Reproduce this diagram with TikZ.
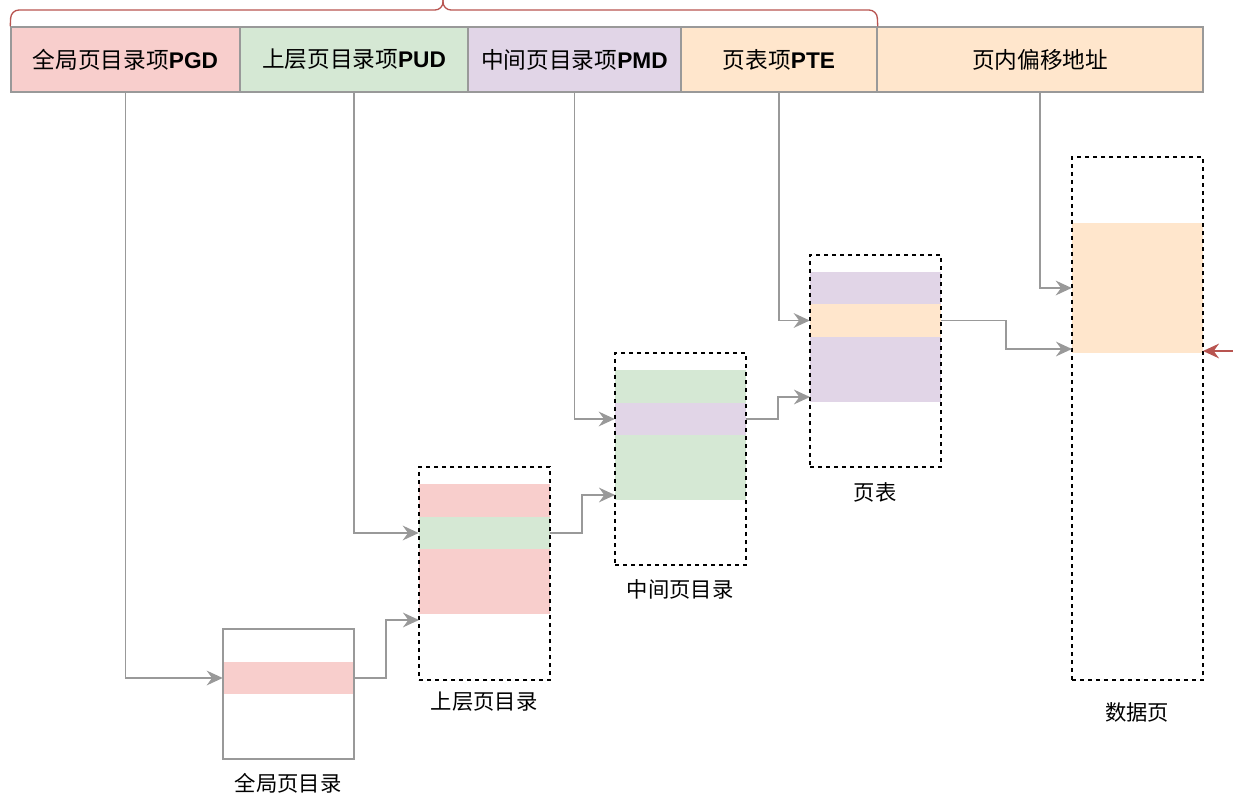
\documentclass[tikz,border=0pt]{standalone}
\usepackage{fontspec}
\setmainfont{Liberation Sans}
\newfontfamily\cjk{Noto Sans CJK SC}
\usetikzlibrary{arrows.meta,fit,positioning}
\definecolor{pgdred}{HTML}{F8CECC}
\definecolor{pudgreen}{HTML}{D5E8D4}
\definecolor{pmdpurple}{HTML}{E1D5E7}
\definecolor{pteorange}{HTML}{FFE6CC}
\definecolor{linegray}{HTML}{999999}
\definecolor{bracered}{HTML}{B85450}
\tikzset{
  field/.style={draw=linegray, line width=1.1pt, inner sep=0pt},
  fieldtext/.style={font=\fontsize{17}{19}\selectfont, inner sep=0pt},
  band/.style={draw=none, inner sep=0pt},
  tbl/.style={draw=black, line width=1pt, dash pattern=on 3pt off 3pt, inner sep=0pt},
  tblsolid/.style={draw=linegray, line width=1.1pt, inner sep=0pt},
  tbllabel/.style={font=\cjk\fontsize{16}{18}\selectfont},
  link/.style={draw=linegray, line width=1.3pt, -{Stealth[length=12pt,width=11pt,inset=4pt]}},
}
\begin{document}
\begin{tikzpicture}[x=0.75pt,y=-0.75pt]
\useasboundingbox (0,0) rectangle (1233,809);

% linear address
\node[field, fill=pgdred,     fit={(11,27) (240,92)}]   (pgd) {};
\node[field, fill=pudgreen,   fit={(240,27) (468,92)}]  (pud) {};
\node[field, fill=pmdpurple,  fit={(468,27) (681,92)}]  (pmd) {};
\node[field, fill=pteorange,  fit={(681,27) (877,92)}]  (pte) {};
\node[field, fill=pteorange,  fit={(877,27) (1203,92)}] (off) {};
\node[fieldtext] (pgdtext) at (pgd.center) {{\cjk 全局页目录项}\textbf{PGD}};
\node[fieldtext] (pudtext) at (pud.center) {{\cjk 上层页目录项}\textbf{PUD}};
\node[fieldtext] (pmdtext) at (pmd.center) {{\cjk 中间页目录项}\textbf{PMD}};
\node[fieldtext] (ptetext) at (pte.center) {{\cjk 页表项}\textbf{PTE}};
\node[fieldtext] (offtext) at (off.center) {\cjk 页内偏移地址};

% brace
\draw[bracered, line width=1pt, rounded corners=6pt] (pgd.north west) -- (11,10) -- (443,10) -- (443,0);
\draw[bracered, line width=1pt, rounded corners=6pt] (pte.north east) -- (877,10) -- (443,10) -- (443,0);

% global page directory
\node[band, fill=pgdred, fit={(223,662) (354,694)}] (pgdrow) {};
\node[tblsolid, fit={(223,629) (354,759)}] (tpgd) {};
\node[tbllabel] at (288,783) {全局页目录};

% upper page directory
\node[band, fill=pgdred,   fit={(419,484) (550,517)}] (pudtop) {};
\node[band, fill=pudgreen, fit={(419,517) (550,549)}] (pudrow) {};
\node[band, fill=pgdred,   fit={(419,549) (550,614)}] (pudbot) {};
\node[tbl, fit={(419,467) (550,680)}] (tpud) {};
\node[tbllabel] at (484,702) {上层页目录};
\coordinate (pudin) at (419,620);

% middle page directory
\node[band, fill=pudgreen,  fit={(615,370) (746,403)}] (pmdtop) {};
\node[band, fill=pmdpurple, fit={(615,403) (746,435)}] (pmdrow) {};
\node[band, fill=pudgreen,  fit={(615,435) (746,500)}] (pmdbot) {};
\node[tbl, fit={(615,353) (746,565)}] (tpmd) {};
\node[tbllabel] at (680,589) {中间页目录};
\coordinate (pmdin) at (615,495);

% page table
\node[band, fill=pmdpurple,  fit={(810,272) (941,304)}] (ptetop) {};
\node[band, fill=pteorange,  fit={(810,304) (941,337)}] (pterow) {};
\node[band, fill=pmdpurple,  fit={(810,337) (941,402)}] (ptebot) {};
\node[tbl, fit={(810,255) (941,467)}] (tpte) {};
\node[tbllabel] at (875,492) {页表};
\coordinate (ptein) at (810,397);

% data page
\node[band, fill=pteorange, fit={(1072,223) (1203,353)}] (datarow) {};
\node[tbl, fit={(1072,157) (1203,680)}] (tdata) {};
\node[tbllabel] at (1137,712) {数据页};
\coordinate (datain) at (1072,349);
\coordinate (dataend) at (1203,351);
\coordinate (ext) at (1233,351);

% connectors
\draw[link] (pgd.south) |- (pgdrow.west);
\draw[link] (pgdrow.east) -- ++(32,0) |- (pudin);
\draw[link] (pud.south) |- (pudrow.west);
\draw[link] (pudrow.east) -- ++(32,0) |- (pmdin);
\draw[link] (pmd.south) |- (pmdrow.west);
\draw[link] (pmdrow.east) -- ++(32,0) |- (ptein);
\draw[link] (pte.south) |- (pterow.west);
\draw[link] (pterow.east) -- ++(65,0) |- (datain);
\draw[link] (off.south) |- (datarow.west);
\draw[link, draw=bracered, -{Stealth[length=12pt,width=11pt,inset=4pt,fill=bracered]}] (ext) -- (dataend);
\end{tikzpicture}
\end{document}
